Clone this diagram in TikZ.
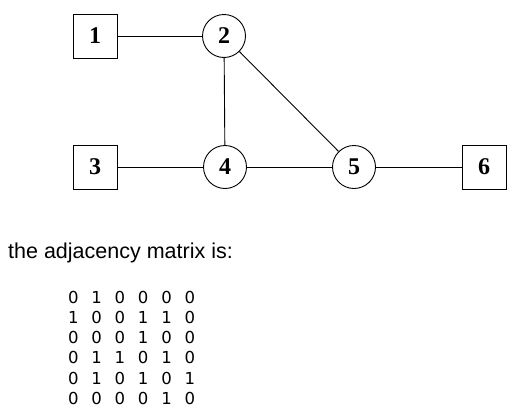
\documentclass[tikz,border=0pt]{standalone}
\usepackage{fontspec}
\setmainfont{Liberation Serif}
\newfontfamily\labelfont{Liberation Sans}
\newfontfamily\matfont{DejaVu Sans}
\begin{document}
\begin{tikzpicture}[x=1pt,y=-1pt,
  sqnode/.style={draw=black,line width=0.9pt,minimum size=44pt,inner sep=0pt,font=\fontsize{24}{24}\selectfont\bfseries},
  cnode/.style={draw=black,circle,line width=0.9pt,minimum size=43pt,inner sep=0pt,font=\fontsize{24}{24}\selectfont\bfseries},
  edge/.style={line width=0.9pt,black},
  digit/.style={inner sep=0pt,anchor=base,font=\matfont\fontsize{16.5}{16.5}\selectfont}]
\useasboundingbox (0,0) rectangle (528,410);
\node[sqnode] (n1) at (95,36) {1};
\node[cnode]  (n2) at (224,36) {2};
\node[sqnode] (n3) at (95,167) {3};
\node[cnode]  (n4) at (225,167) {4};
\node[cnode]  (n5) at (354,167) {5};
\node[sqnode] (n6) at (484,167) {6};
\draw[edge] (n1) -- (n2);
\draw[edge] (n2) -- (n4);
\draw[edge] (n2) -- (n5);
\draw[edge] (n3) -- (n4);
\draw[edge] (n4) -- (n5);
\draw[edge] (n5) -- (n6);
\node[anchor=base west,inner sep=0pt,font=\labelfont\fontsize{21.5}{21.5}\selectfont] (cap) at (8,258) {the adjacency matrix is:};
\foreach \row [count=\i from 0] in {{0,1,0,0,0,0},{1,0,0,1,1,0},{0,0,0,1,0,0},{0,1,1,0,1,0},{0,1,0,1,0,1},{0,0,0,0,1,0}}{
  \foreach \v [count=\j from 0] in \row {
    \node[digit] (m\i\j) at ({73.3+23.3*\j},{303+20.3*\i}) {\v};
  }
}
\end{tikzpicture}
\end{document}
